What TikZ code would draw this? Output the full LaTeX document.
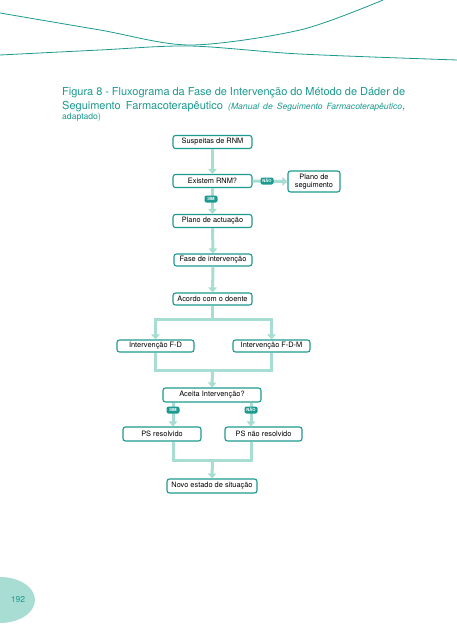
\documentclass[tikz,border=0pt]{standalone}
\usepackage{fontspec}
\setmainfont{TeX Gyre Heros}
\usetikzlibrary{arrows.meta}

\definecolor{tealdark}{HTML}{1C9A8F}
\definecolor{teallight}{HTML}{A8DDD3}

\tikzset{
  box/.style={draw=tealdark, line width=1.1pt, rounded corners=2.5pt, fill=white,
    font=\fontsize{7.4}{8.2}\selectfont, inner sep=0pt, align=center, minimum height=13pt},
  flow/.style={draw=teallight, line width=3pt, -{Triangle[width=8.5pt,length=5pt]}},
  link/.style={draw=teallight, line width=3pt},
  badge/.style={fill=tealdark, text=white, rounded corners=2pt, inner sep=0pt,
    font=\fontsize{4.2}{4.5}\selectfont\bfseries, minimum width=13pt, minimum height=7pt},
  caption/.style={anchor=base west, inner sep=0pt, text=tealdark},
}

\begin{document}
\begin{tikzpicture}[x=1pt,y=-1pt]
\useasboundingbox[fill=white] (0,0) rectangle (457,640);

% page decoration
\draw[tealdark, line width=0.8pt] plot[smooth] coordinates {(0,13) (100,30) (190,45) (300,30) (383,0)};
\draw[tealdark, line width=0.8pt] plot[smooth] coordinates {(0,55) (100,50) (190,46) (300,54) (457,60)};
\fill[teallight] (0,600) ellipse [x radius=35, y radius=23];
\node[text=tealdark, font=\fontsize{8.5}{9}\selectfont] (pagenum) at (18,600) {192};

% caption
\node[caption, font=\fontsize{11}{12}\selectfont] (capone) at (62,95)
  {\makebox[343pt][s]{Figura 8 - Fluxograma da Fase de Intervenção do Método de Dáder de}};
\node[caption, font=\fontsize{11}{12}\selectfont] (captwo) at (62,109)
  {\makebox[343pt][s]{Seguimento Farmacoterapêutico {\fontsize{8.6}{9}\selectfont\itshape (Manual de Seguimento Farmacoterapêutico},}};
\node[caption, font=\fontsize{8.6}{9}\selectfont] (capthree) at (62,119.5) {adaptado)};

% boxes
\node[box, minimum width=79pt] (suspeitas) at (212.5,142) {Suspeitas de RNM};
\node[box, minimum width=79pt] (existem) at (212.5,181) {Existem RNM?};
\node[box, minimum width=52pt, minimum height=21pt] (seguimento) at (314,181.5) {Plano de\\seguimento};
\node[box, minimum width=79pt] (actuacao) at (212.5,221) {Plano de actuação};
\node[box, minimum width=78pt, minimum height=12pt] (fase) at (213,260) {Fase de intervenção};
\node[box, minimum width=79pt, minimum height=12pt] (acordo) at (212.5,299) {Acordo com o doente};
\node[box, minimum width=77pt, minimum height=12pt] (fd) at (155.5,346) {Intervenção F-D};
\node[box, minimum width=77pt, minimum height=12pt] (fdm) at (271.5,346) {Intervenção F-D-M};
\node[box, minimum width=98pt, minimum height=14pt] (aceita) at (212,395) {Aceita Intervenção?};
\node[box, minimum width=78pt, minimum height=14pt] (resolvido) at (162,434) {PS resolvido};
\node[box, minimum width=77pt, minimum height=14pt] (naoresolvido) at (263.5,434) {PS não resolvido};
\node[box, minimum width=90pt, minimum height=14pt] (novo) at (212,486) {Novo estado de situação};

\coordinate (split) at (212.5,319);
\coordinate (merge) at (212.5,370);
\coordinate (merge2) at (212.5,460);
\coordinate (simpos) at (173,410);
\coordinate (naopos) at (251,410);

% connectors
\draw[flow] (suspeitas) -- (existem);
\draw[flow] (existem.east) -- (seguimento.west);
\draw[flow] (existem) -- (actuacao);
\draw[flow] (actuacao) -- (fase);
\draw[flow] (fase) -- (acordo);
\draw[link] (acordo.south) -- (split);
\draw[flow] (split) -| (fd.north);
\draw[flow] (split) -| (fdm.north);
\draw[link] (fd.south) |- (merge);
\draw[link] (fdm.south) |- (merge);
\draw[flow] (merge) -- (aceita.north);
\draw[flow] (simpos |- aceita.south) -- (simpos |- resolvido.north);
\draw[flow] (naopos |- aceita.south) -- (naopos |- naoresolvido.north);
\draw[link] (simpos |- resolvido.south) |- (merge2);
\draw[link] (naopos |- naoresolvido.south) |- (merge2);
\draw[flow] (merge2) -- (novo.north);

% labels
\node[badge] (nao1) at (267,181) {NÃO};
\node[badge] (sim1) at (211,199) {SIM};
\node[badge] (sim2) at (simpos) {SIM};
\node[badge] (nao2) at (naopos) {NÃO};
\end{tikzpicture}
\end{document}
